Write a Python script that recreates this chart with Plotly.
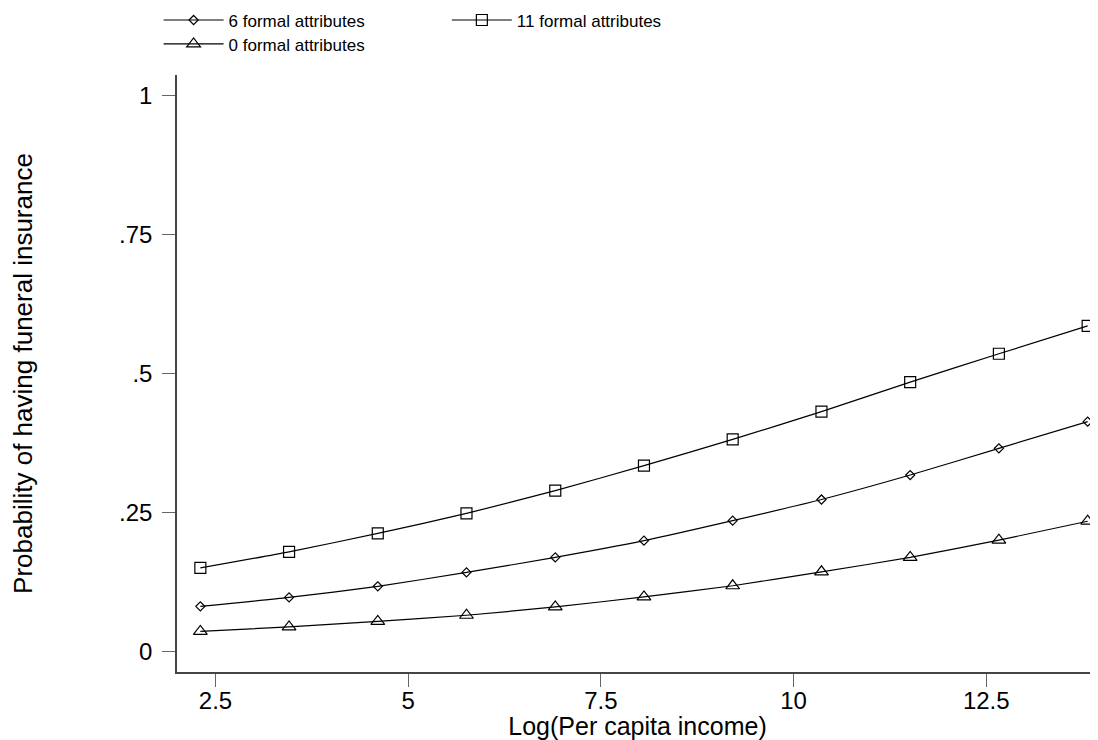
import plotly.graph_objects as go

log_income = [2.303, 3.454, 4.605, 5.756, 6.908, 8.059, 9.210, 10.362, 11.513, 12.664, 13.816]
p_six = [0.082, 0.098, 0.118, 0.143, 0.170, 0.200, 0.236, 0.274, 0.318, 0.366, 0.414]
p_eleven = [0.151, 0.180, 0.213, 0.249, 0.290, 0.335, 0.382, 0.432, 0.485, 0.536, 0.586]
p_zero = [0.037, 0.045, 0.055, 0.066, 0.081, 0.099, 0.119, 0.144, 0.170, 0.201, 0.235]

x_ticks = [2.5, 5, 7.5, 10, 12.5]
x_labels = ["2.5", "5", "7.5", "10", "12.5"]
y_ticks = [0, 0.25, 0.5, 0.75, 1]
y_labels = ["0", ".25", ".5", ".75", "1"]

FONT = "Liberation Sans, Arial, sans-serif"

fig = go.Figure()
series = [
    ("6 formal attributes", p_six, "diamond-open", 7, "legend"),
    ("11 formal attributes", p_eleven, "square-open", 11, "legend2"),
    ("0 formal attributes", p_zero, "triangle-up-open", 12, "legend3"),
]
for name, vals, sym, size, leg in series:
    fig.add_trace(go.Scatter(
        x=log_income, y=vals, name=name, mode="lines+markers",
        line=dict(color="black", width=1.2, shape="spline", smoothing=0.6),
        marker=dict(symbol=sym, size=size, color="black", line=dict(width=1.2, color="black")),
        legend=leg,
    ))

axis_common = dict(
    showgrid=False, zeroline=False, showline=True, linecolor="#444", linewidth=1.5,
    ticks="outside", tickcolor="#666", tickwidth=1.2, ticklen=13, automargin=False,
    tickfont=dict(family=FONT, size=24, color="black"),
)

leg_common = dict(xanchor="left", yanchor="top", orientation="v",
                  font=dict(family=FONT, size=17), itemwidth=60,
                  bgcolor="rgba(0,0,0,0)")

fig.update_layout(
    width=1090, height=732,
    margin=dict(l=169, r=0, t=67, b=68, autoexpand=False),
    paper_bgcolor="white", plot_bgcolor="white",
    font=dict(family=FONT, color="black"),
    xaxis=dict(range=[2.0, 13.95], tickvals=x_ticks, ticktext=x_labels,
               title=dict(text="Log(Per capita income)", font=dict(family=FONT, size=25), standoff=6),
               ticklabelstandoff=-7, **axis_common),
    yaxis=dict(range=[-0.036, 1.037], tickvals=y_ticks, ticktext=y_labels,
               title=dict(text="Probability of having funeral insurance", font=dict(family=FONT, size=26), standoff=80),
               ticklabelstandoff=5, **axis_common),
    legend=dict(x=-0.020, y=1.1215, **leg_common),
    legend2=dict(x=0.293, y=1.1215, **leg_common),
    legend3=dict(x=-0.020, y=1.0815, **leg_common),
    showlegend=True,
)

fig.write_html("out.html")
